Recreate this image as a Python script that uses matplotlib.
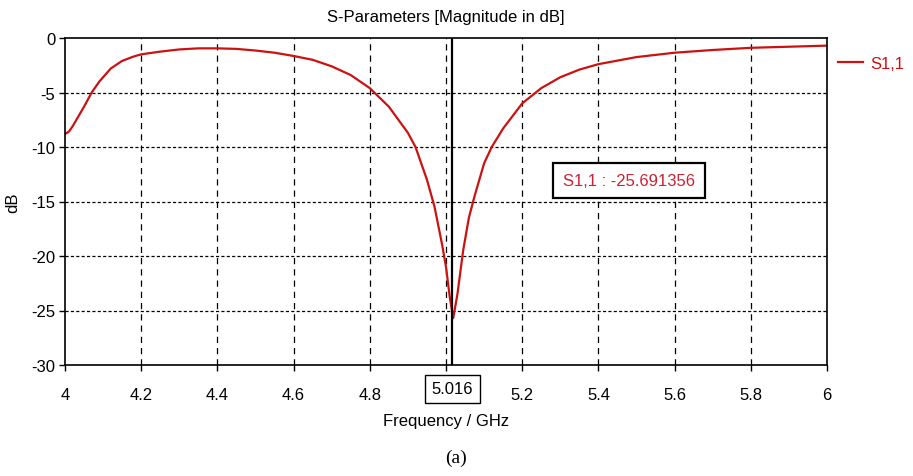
import numpy as np
import matplotlib.pyplot as plt

# ----------------------------------------------------------------
# Datos (S1,1 en dB)
# ----------------------------------------------------------------
frecuencia = [4.0, 4.01, 4.02, 4.035, 4.05, 4.07, 4.09, 4.1, 4.12, 4.15, 4.18, 4.2,
              4.25, 4.3, 4.35, 4.4, 4.45, 4.5, 4.55, 4.6, 4.65, 4.7, 4.75, 4.8,
              4.85, 4.9, 4.92, 4.95, 4.97, 4.99, 5.0, 5.01, 5.019, 5.03, 5.045,
              5.06, 5.075, 5.1, 5.12, 5.15, 5.2, 5.25, 5.3, 5.35, 5.4, 5.5, 5.6,
              5.7, 5.8, 5.9, 6.0]
s11_db = [-8.8, -8.6, -8.1, -7.2, -6.3, -5.0, -4.0, -3.6, -2.8, -2.1, -1.7, -1.5,
          -1.25, -1.05, -0.95, -0.95, -1.0, -1.15, -1.35, -1.65, -2.0, -2.6, -3.4,
          -4.6, -6.3, -8.7, -10.0, -13.0, -15.5, -19.0, -21.0, -23.8, -25.69,
          -23.5, -19.5, -16.5, -14.5, -11.5, -10.0, -8.3, -6.0, -4.6, -3.6, -2.9,
          -2.4, -1.75, -1.35, -1.1, -0.9, -0.8, -0.7]

x_ticks = [4, 4.2, 4.4, 4.6, 4.8, 5.0, 5.2, 5.4, 5.6, 5.8, 6]
x_tick_labels = ['4', '4.2', '4.4', '4.6', '4.8', '', '5.2', '5.4', '5.6', '5.8', '6']
y_ticks = [0, -5, -10, -15, -20, -25, -30]

marcador_x = 5.016
marcador_texto = 'S1,1 : -25.691356'

FUENTE = ['Liberation Sans', 'DejaVu Sans']
ROJO = '#cc1111'
TAM = 12

fig = plt.figure(figsize=(9.13, 4.77), dpi=100)
ax = fig.add_axes([65 / 913, 111 / 477, 762 / 913, 327 / 477])

ax.plot(frecuencia, s11_db, color=ROJO, lw=1.6, label='S1,1')
ax.axvline(marcador_x, color='black', lw=1.6)

ax.set_xlim(4, 6)
ax.set_ylim(-30, 0)
ax.set_xticks(x_ticks)
ax.set_xticklabels(x_tick_labels, family=FUENTE, fontsize=TAM)
ax.set_yticks(y_ticks)
ax.set_yticklabels([str(v) for v in y_ticks], family=FUENTE, fontsize=TAM)
ax.tick_params(direction='out', length=4, width=1, color='black')
ax.tick_params(axis='x', pad=12)
ax.tick_params(axis='y', pad=3)

for x in x_ticks[1:-1]:
    ax.axvline(x, color='black', lw=0.9, ls=(0, (5, 4)), zorder=0)
for y in y_ticks[1:-1]:
    ax.axhline(y, color='black', lw=0.9, ls=(0, (2.5, 1.8)), zorder=0)

for s in ax.spines.values():
    s.set_linewidth(1.2)

ax.set_title('S-Parameters [Magnitude in dB]', family=FUENTE, fontsize=TAM, pad=12)
ax.set_xlabel('Frequency / GHz', family=FUENTE, fontsize=TAM, labelpad=8)
ax.set_ylabel('dB', family=FUENTE, fontsize=TAM, labelpad=8)

# etiqueta del marcador en el eje x
ax.text(marcador_x, -31.5, '5.016', ha='center', va='top', fontsize=TAM, family=FUENTE,
        bbox=dict(boxstyle='square,pad=0.4', fc='white', ec='black', lw=1.0))

# cuadro con el valor minimo
ax.text(5.48, -13.1, marcador_texto, ha='center', va='center', fontsize=TAM,
        family=FUENTE, color='#cc2233',
        bbox=dict(boxstyle='square,pad=0.6', fc='white', ec='black', lw=1.6))

leg = ax.legend(loc='upper left', bbox_to_anchor=(0.995, 0.99), frameon=False,
                handlelength=1.5, handletextpad=0.4, prop={'family': FUENTE, 'size': TAM})
for t in leg.get_texts():
    t.set_color(ROJO)

fig.text(456 / 913, 1 - 458 / 477, '(a)', ha='center', va='center',
         family=['Liberation Serif', 'DejaVu Serif'], fontsize=14)

fig.savefig('out.png', dpi=100)
